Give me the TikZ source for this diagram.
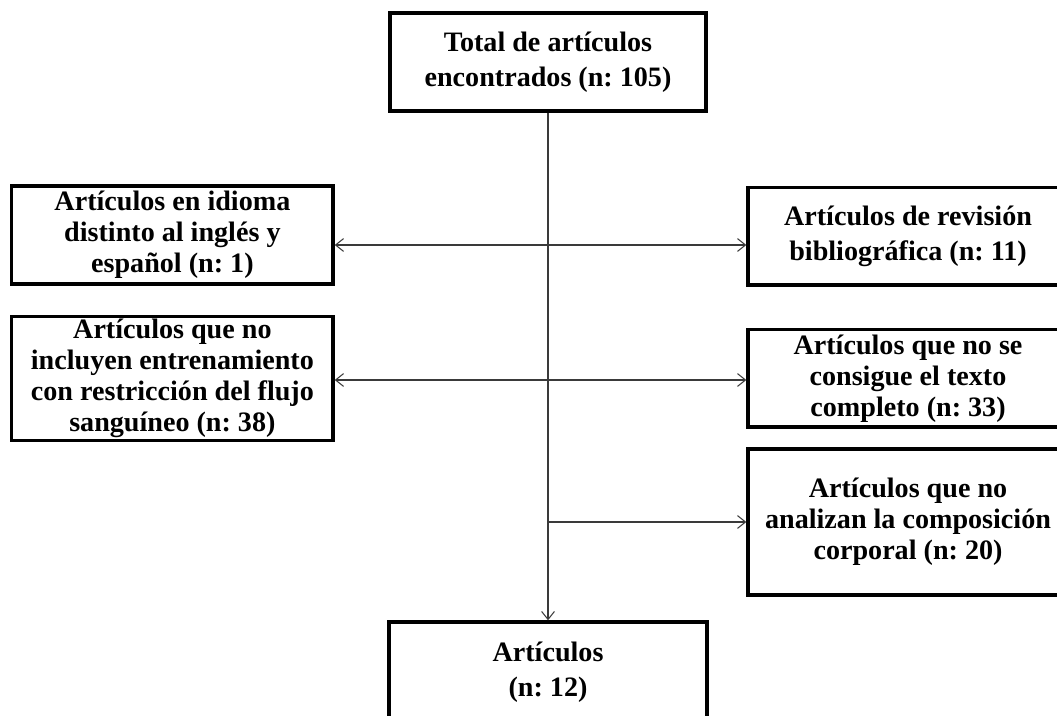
\documentclass[tikz,border=0pt]{standalone}
\usepackage{fontspec}
\setmainfont{Liberation Serif}
\frenchspacing
\usetikzlibrary{arrows.meta,positioning,calc}
\definecolor{cborde}{HTML}{000000}
\definecolor{cflecha}{HTML}{3A3A3A}
\tikzset{
  caja/.style={draw=cborde,line width=2.4pt,align=center,inner sep=2pt,
               font=\fontsize{20}{22}\selectfont\bfseries},
  cajad/.style={caja,font=\fontsize{20}{25}\selectfont\bfseries},
  flecha/.style={-{Straight Barb[length=2mm,width=3.2mm]},draw=cflecha,line width=0.75pt},
}
\begin{document}
\begin{tikzpicture}[x=1cm,y=1cm]
\clip (0,0) rectangle (26.425,-17.875);

\node[cajad,minimum width=7.9cm,minimum height=2.45cm] (total) at (13.7,-1.55)
  {Total de artículos\\encontrados (n: 105)};

\node[caja,minimum width=8.03cm,minimum height=2.45cm] (idioma) at (4.31,-5.875)
  {Artículos en idioma\\distinto al inglés y\\español (n: 1)};
\node[caja,minimum width=8.03cm,minimum height=2.92cm] (flujo) at (4.31,-9.46)
  {Artículos que no\\incluyen entrenamiento\\con restricción del flujo\\sanguíneo (n: 38)};

\node[cajad,minimum width=8.0cm,minimum height=2.43cm] (revision) at (22.7,-5.91)
  {Artículos de revisión\\bibliográfica (n: 11)};
\node[caja,minimum width=8.0cm,minimum height=2.43cm] (texto) at (22.7,-9.46)
  {Artículos que no se\\consigue el texto\\completo (n: 33)};
\node[caja,minimum width=8.0cm,minimum height=3.65cm] (corporal) at (22.7,-13.05)
  {Artículos que no\\analizan la composición\\corporal (n: 20)};

\node[cajad,minimum width=7.95cm,minimum height=2.5cm] (final) at (13.7,-16.8)
  {Artículos\\(n: 12)};

% ramales sobre el tronco central
\coordinate (b1) at (13.7,-6.125);
\coordinate (b2) at (13.7,-9.5);
\coordinate (b3) at (13.7,-13.05);

\draw[flecha] (total) -- (final);
\draw[flecha] (b1) -- (b1 -| idioma.east);
\draw[flecha] (b1) -- (b1 -| revision.west);
\draw[flecha] (b2) -- (b2 -| flujo.east);
\draw[flecha] (b2) -- (b2 -| texto.west);
\draw[flecha] (b3) -- (b3 -| corporal.west);

\end{tikzpicture}
\end{document}
